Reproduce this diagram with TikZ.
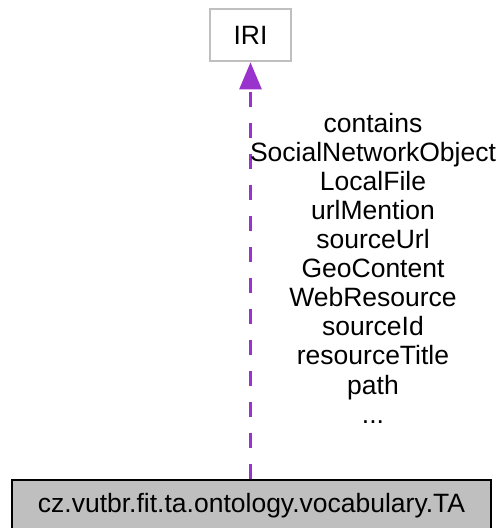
\documentclass[tikz,border=0pt]{standalone}
\usepackage{fontspec}
\setmainfont{Liberation Sans}
\usetikzlibrary{arrows.meta}
\definecolor{doxyPurple}{RGB}{154, 50, 205}
\definecolor{doxyGray}{RGB}{191, 191, 191}

\begin{document}
\begin{tikzpicture}[
  x=1pt,y=-1pt,
  every node/.style={font=\fontsize{26.5}{29.1}\selectfont},
  classbox/.style={draw,line width=2.7pt,inner sep=0pt},
  arrow/.style={-{Triangle[length=27pt,width=22pt]},line width=2.7pt,doxyPurple,dash pattern=on 15pt off 16pt}
]
  \clip (0,0) rectangle (498,528);
  \node[classbox,draw=doxyGray,minimum width=81pt,minimum height=52pt] (iri) at (250.5,35) {IRI};
  \node[classbox,fill=doxyGray,minimum width=479pt,minimum height=60pt,text height=19pt,text depth=15pt] (ta) at (251.5,510) {cz.vutbr.fit.ta.ontology.vocabulary.TA};
  \draw[arrow] (iri |- ta.north) -- (iri.south);
  \node[align=center,inner sep=0pt] (members) at (373,268) {contains\\SocialNetworkObject\\LocalFile\\urlMention\\sourceUrl\\GeoContent\\WebResource\\sourceId\\resourceTitle\\path\\...};
\end{tikzpicture}
\end{document}
